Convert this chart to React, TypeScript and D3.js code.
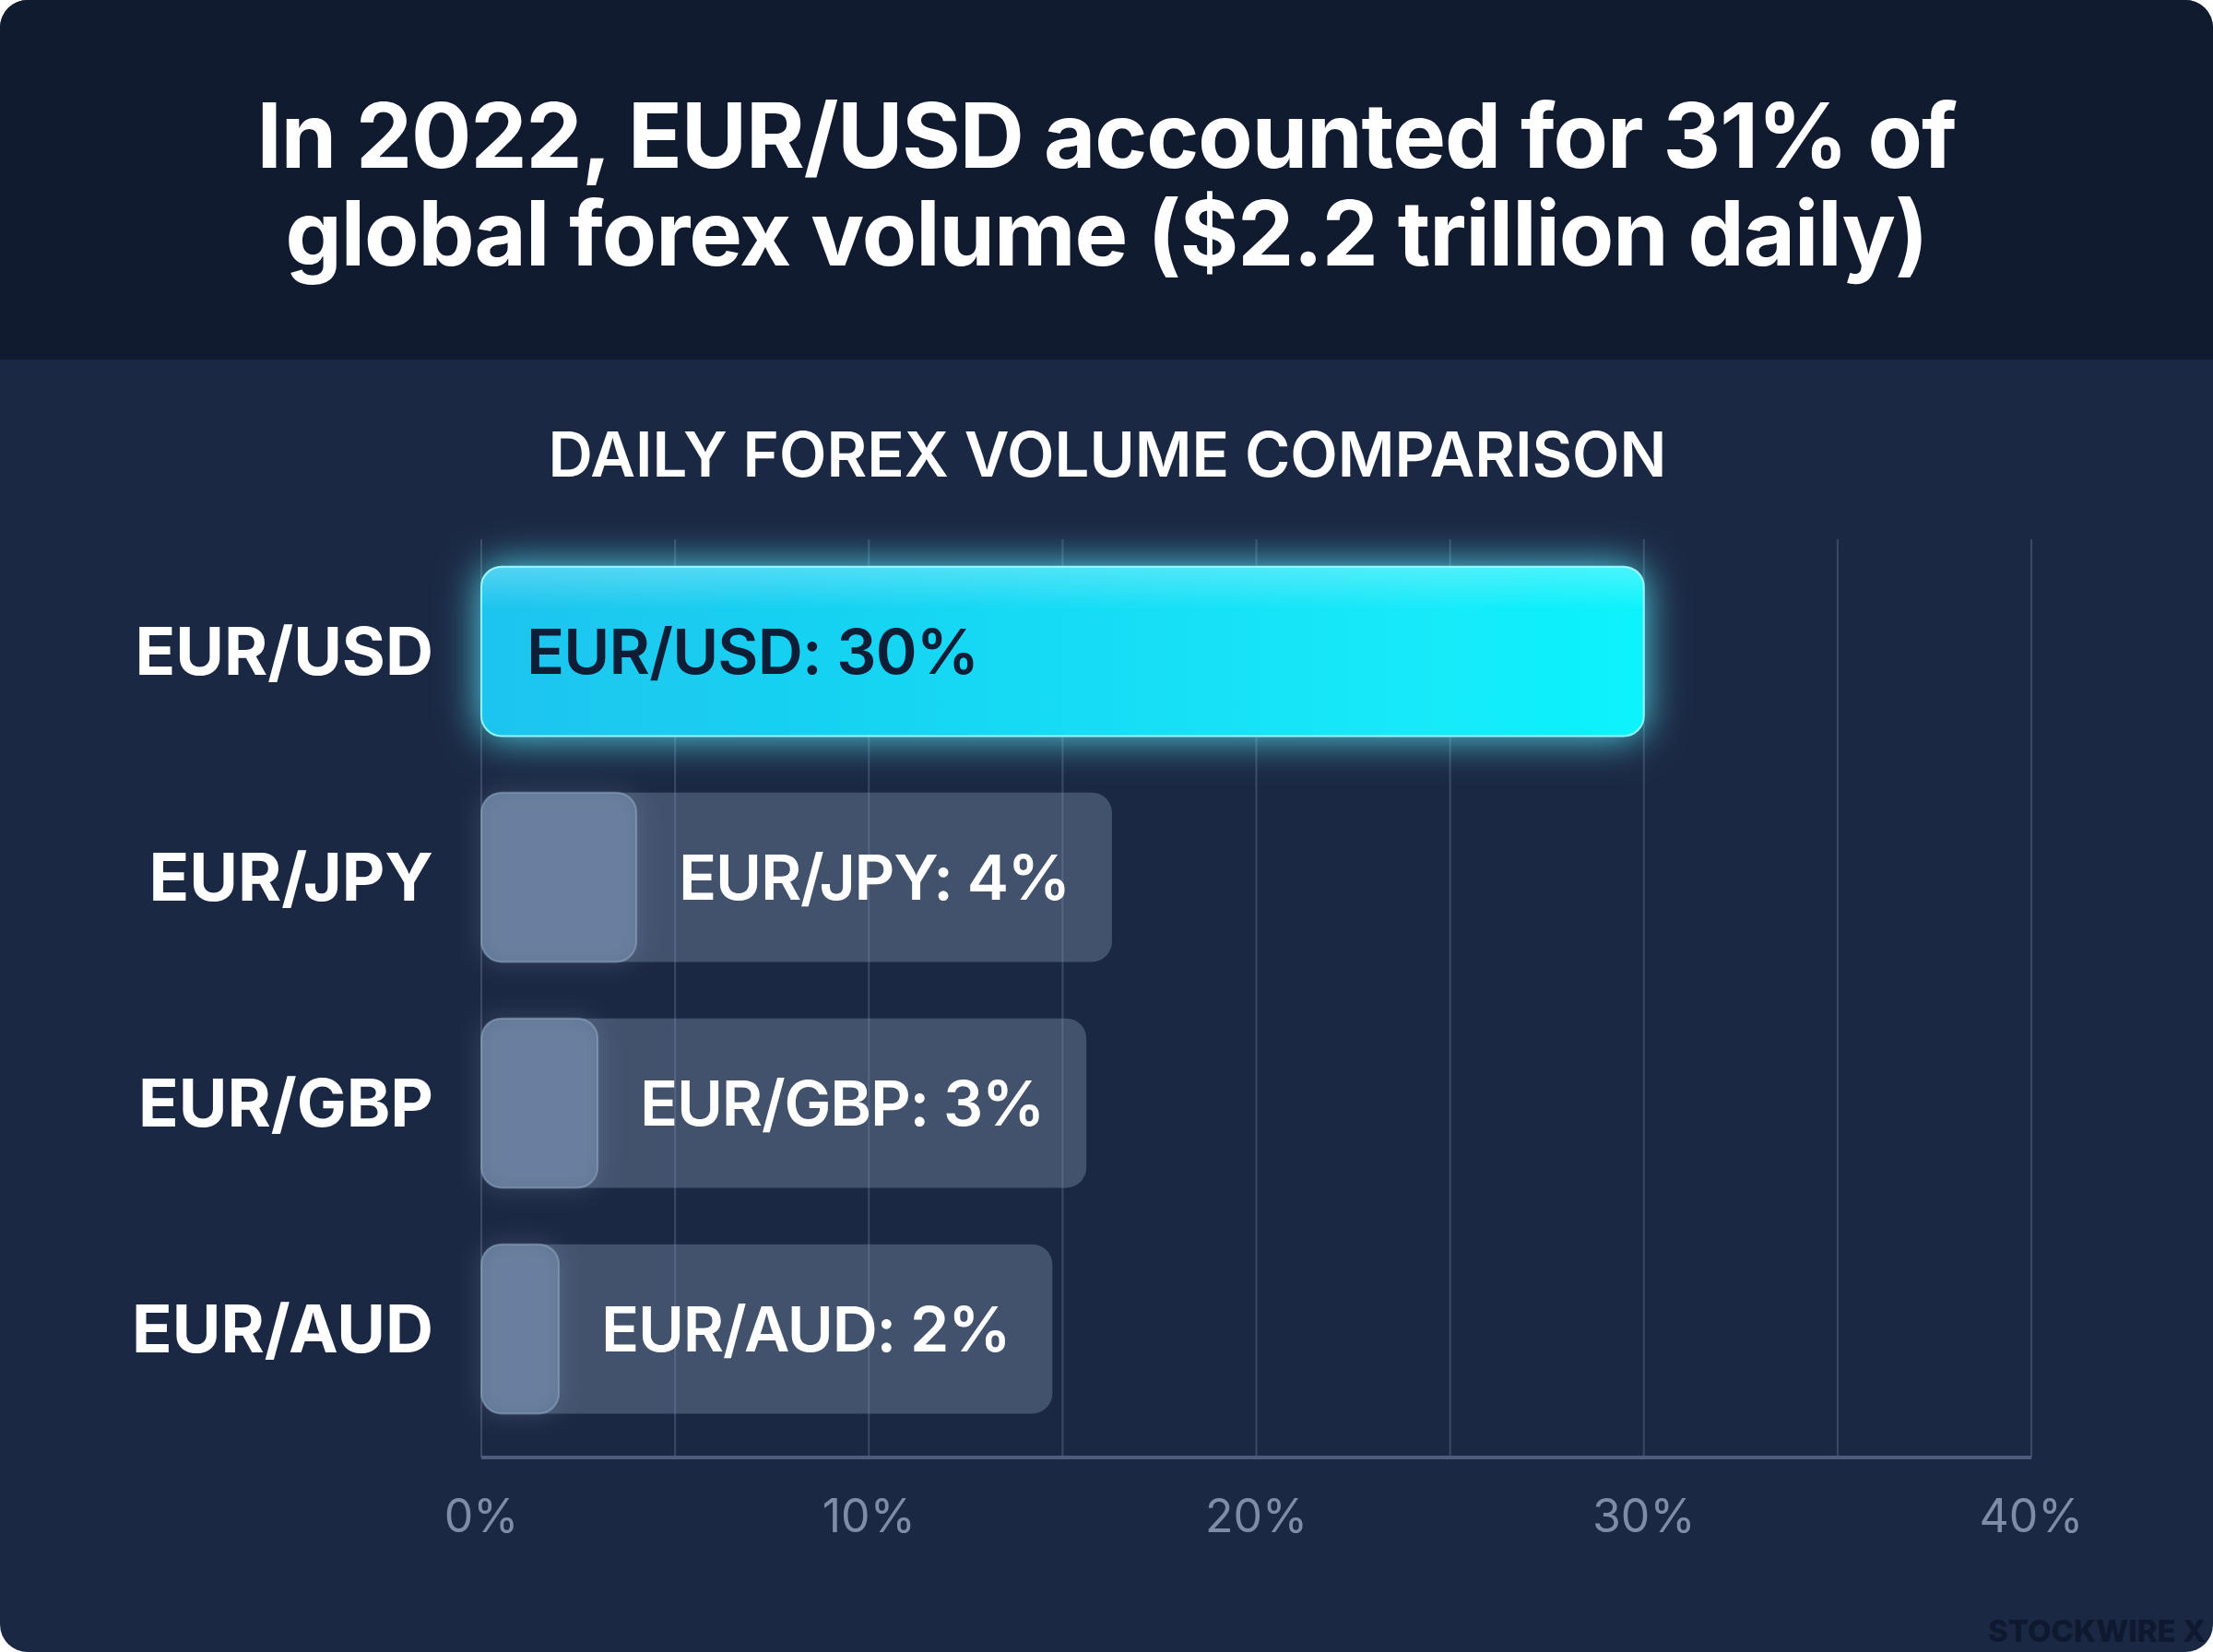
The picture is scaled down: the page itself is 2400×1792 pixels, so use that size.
import React, { useEffect, useRef } from "react";
import * as d3 from "d3";

// values
const pairs = ["EUR/USD", "EUR/JPY", "EUR/GBP", "EUR/AUD"];
const shares = [30, 4, 3, 2];
const xTicks = [0, 10, 20, 30, 40];
const gridSteps = [0, 5, 10, 15, 20, 25, 30, 35, 40];
const titleLines = [
    "In 2022, EUR/USD accounted for 31% of",
    "global forex volume ($2.2 trillion daily)",
];
const subtitle = "DAILY FOREX VOLUME COMPARISON";

const W = 2400;
const H = 1792;
const FONT = "Inter, 'Noto Sans', sans-serif";

const App: React.FC = () => {
    const svgRef = useRef<SVGSVGElement | null>(null);

    useEffect(() => {
        if (!svgRef.current) return;
        const svg = d3.select(svgRef.current);
        svg.selectAll("*").remove();

        const defs = svg.append("defs");

        const hero = defs.append("linearGradient").attr("id", "hero").attr("x1", "0").attr("x2", "1");
        hero.append("stop").attr("offset", "0%").attr("stop-color", "#1cc4ee");
        hero.append("stop").attr("offset", "100%").attr("stop-color", "#10f3fc");

        const shine = defs.append("linearGradient").attr("id", "shine").attr("x1", "0").attr("x2", "0").attr("y1", "0").attr("y2", "1");
        shine.append("stop").attr("offset", "0%").attr("stop-color", "#ffffff").attr("stop-opacity", 0.25);
        shine.append("stop").attr("offset", "25%").attr("stop-color", "#ffffff").attr("stop-opacity", 0);

        const glow = defs.append("filter").attr("id", "glow").attr("x", "-20%").attr("y", "-60%").attr("width", "140%").attr("height", "220%");
        glow.append("feGaussianBlur").attr("in", "SourceGraphic").attr("stdDeviation", 22).attr("result", "b");
        glow.append("feColorMatrix").attr("in", "b").attr("type", "matrix")
            .attr("values", "0 0 0 0 0.1  0 0 0 0 0.85  0 0 0 0 1  0 0 0 0.9 0").attr("result", "c");
        const gm = glow.append("feMerge");
        gm.append("feMergeNode").attr("in", "c");
        gm.append("feMergeNode").attr("in", "SourceGraphic");

        const soft = defs.append("filter").attr("id", "soft").attr("x", "-80%").attr("y", "-60%").attr("width", "260%").attr("height", "220%");
        soft.append("feGaussianBlur").attr("in", "SourceAlpha").attr("stdDeviation", 14).attr("result", "b");
        soft.append("feFlood").attr("flood-color", "#a9c4e6").attr("flood-opacity", 0.3);
        soft.append("feComposite").attr("in2", "b").attr("operator", "in").attr("result", "c");
        const sm = soft.append("feMerge");
        sm.append("feMergeNode").attr("in", "c");
        sm.append("feMergeNode").attr("in", "SourceGraphic");

        const clip = defs.append("clipPath").attr("id", "card");
        clip.append("rect").attr("width", W).attr("height", H).attr("rx", 30);

        const card = svg.append("g").attr("clip-path", "url(#card)");
        card.append("rect").attr("width", W).attr("height", H).attr("fill", "#1b2843");
        card.append("rect").attr("width", W).attr("height", 390).attr("fill", "#111b30");

        // title
        card.append("g").selectAll("text").data(titleLines).enter().append("text")
            .attr("x", W / 2).attr("y", (d, i) => 182 + i * 106)
            .attr("text-anchor", "middle").attr("fill", "#ffffff")
            .attr("font-family", FONT).attr("font-weight", 700).attr("font-size", 97)
            .attr("letter-spacing", -1)
            .text(d => d);

        card.append("text")
            .attr("x", 1201).attr("y", 517).attr("text-anchor", "middle")
            .attr("fill", "#ffffff").attr("font-family", FONT).attr("font-weight", 600).attr("font-size", 67)
            .text(subtitle);

        const x = d3.scaleLinear().domain([0, 40]).range([522, 2203]);
        const y = d3.scaleBand().domain(pairs).range([584, 1564]).paddingInner(0.25).paddingOuter(0.125);
        const gridTop = 585;
        const gridBottom = 1581;

        // grid
        card.append("g").selectAll("line").data(gridSteps).enter().append("line")
            .attr("x1", d => x(d)).attr("x2", d => x(d))
            .attr("y1", gridTop).attr("y2", gridBottom)
            .attr("stroke", "#3a4965").attr("stroke-width", 2);

        card.append("line")
            .attr("x1", x(0)).attr("x2", x(40)).attr("y1", gridBottom).attr("y2", gridBottom)
            .attr("stroke", "#4d5d7b").attr("stroke-width", 4);

        // x tick labels
        card.append("g").selectAll("text").data(xTicks).enter().append("text")
            .attr("x", d => x(d)).attr("y", 1662).attr("text-anchor", "middle")
            .attr("fill", "#7e8ca6").attr("font-family", FONT).attr("font-weight", 400).attr("font-size", 50)
            .text(d => `${d}%`);

        // y labels
        card.append("g").selectAll("text").data(pairs).enter().append("text")
            .attr("x", 470).attr("y", d => (y(d) as number) + y.bandwidth() / 2)
            .attr("dy", "0.36em").attr("text-anchor", "end")
            .attr("fill", "#ffffff").attr("font-family", FONT).attr("font-weight", 700).attr("font-size", 72)
            .text(d => d);

        const rows = pairs.map((p, i) => ({ pair: p, value: shares[i], lead: i === 0 }));
        const bh = y.bandwidth();
        const r = 22;

        rows.forEach(row => {
            const top = y(row.pair) as number;
            const g = card.append("g");
            const label = `${row.pair}: ${row.value}%`;
            if (row.lead) {
                g.append("rect")
                    .attr("x", x(0)).attr("y", top).attr("width", x(row.value) - x(0)).attr("height", bh)
                    .attr("rx", r).attr("fill", "url(#hero)").attr("stroke", "#8ff6ff").attr("stroke-width", 2)
                    .attr("filter", "url(#glow)");
                g.append("rect")
                    .attr("x", x(0)).attr("y", top).attr("width", x(row.value) - x(0)).attr("height", bh)
                    .attr("rx", r).attr("fill", "url(#shine)");
                g.append("text")
                    .attr("x", x(0) + 49).attr("y", top + bh / 2).attr("dy", "0.36em")
                    .attr("fill", "#0f1e37").attr("font-family", FONT).attr("font-weight", 600).attr("font-size", 68)
                    .attr("letter-spacing", -0.8)
                    .text(label);
            } else {
                const barEnd = x(row.value);
                const track = g.append("rect")
                    .attr("x", x(0)).attr("y", top).attr("height", bh).attr("rx", r)
                    .attr("fill", "#8ca0be").attr("fill-opacity", 0.35);
                g.append("rect")
                    .attr("x", x(0)).attr("y", top).attr("width", barEnd - x(0)).attr("height", bh)
                    .attr("rx", r).attr("fill", "#7690b0").attr("fill-opacity", 0.6)
                    .attr("stroke", "#b8cde6").attr("stroke-opacity", 0.35).attr("stroke-width", 2)
                    .attr("filter", "url(#soft)");
                const t = g.append("text")
                    .attr("x", barEnd + 46).attr("y", top + bh / 2).attr("dy", "0.36em")
                    .attr("fill", "#ffffff").attr("font-family", FONT).attr("font-weight", 600).attr("font-size", 68)
                    .attr("letter-spacing", -1.2)
                    .text(label);
                const len = (t.node() as SVGTextElement).getComputedTextLength();
                track.attr("width", barEnd + 46 + len + 46 - x(0));
            }
        });

        // watermark
        card.append("text")
            .attr("x", 2392).attr("y", 1781).attr("text-anchor", "end")
            .attr("fill", "#0e1930").attr("font-family", FONT).attr("font-weight", 800).attr("font-size", 33)
            .text("STOCKWIRE X");
    }, []);

    return (
        <>
            <style>{"body{margin:0;background:#ffffff}"}</style>
            <svg ref={svgRef} width={W} height={H} style={{ display: "block" }} />
        </>
    );
};

export default App;
